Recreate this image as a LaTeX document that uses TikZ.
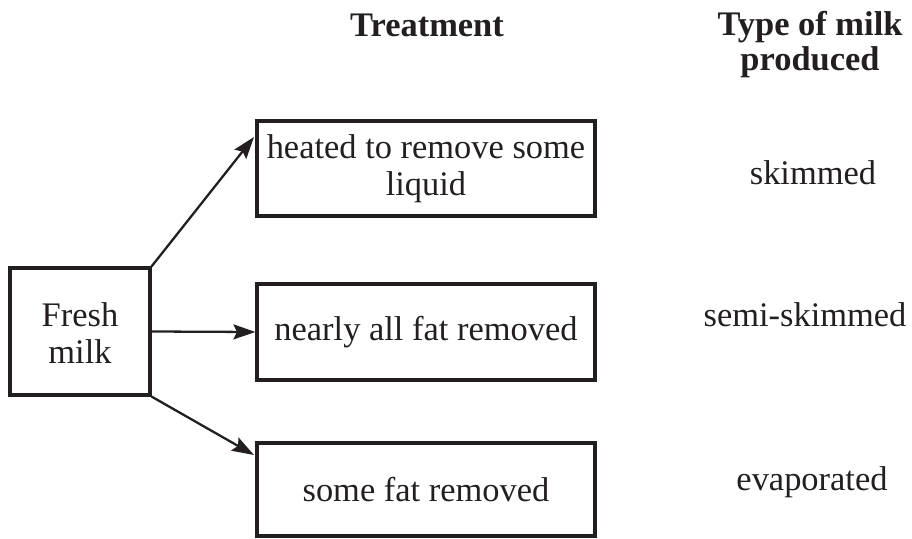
\documentclass[tikz,border=0pt]{standalone}
\usepackage{fontspec}
\setmainfont{Liberation Serif}
\usetikzlibrary{arrows.meta}
\definecolor{ink}{HTML}{231F20}
\tikzset{
    box/.style={draw=ink, line width=1.8pt, inner sep=0pt, align=center, text=ink},
    link/.style={draw=ink, line width=1.3pt, -{Stealth[length=12.5pt,width=8.5pt,inset=2pt]}},
    headtext/.style={text=ink, align=center, inner sep=0pt, font=\fontsize{19.6}{20}\selectfont\bfseries},
    typetext/.style={text=ink, inner sep=0pt}
}
\begin{document}
\begin{tikzpicture}[font=\fontsize{19.6}{21}\selectfont] %milk
            \useasboundingbox (0,0) rectangle (18.24,10.76);

            \node[box, minimum width=2.8cm, minimum height=2.54cm] (fresh) at (1.6,4.13) {\\[-6pt]Fresh\\milk};
            \node[box, minimum width=6.76cm, minimum height=1.9cm] (heated) at (8.52,7.39) {heated to remove some\\liquid};
            \node[box, minimum width=6.76cm, minimum height=1.92cm] (nearly) at (8.52,4.12) {nearly all fat removed};
            \node[box, minimum width=6.76cm, minimum height=1.86cm] (somefat) at (8.52,0.97) {some fat removed};

            \coordinate (tipheated) at (5.08,8.02);
            \coordinate (tipsomefat) at (5.08,1.66);
            \draw[link] (fresh.north east) -- (tipheated);
            \draw[link] (fresh.east) -- (nearly.west);
            \draw[link] (fresh.south east) -- (tipsomefat);

            \node[headtext, anchor=base] (treatment) at (8.54,10.03) {Treatment};
            \node[headtext, anchor=base] (typehead) at (16.2,9.34) {Type of milk\\produced};

            \node[typetext, anchor=base] (skimmed) at (16.26,7.06) {skimmed};
            \node[typetext, anchor=base] (semi) at (16.1,4.22) {semi-skimmed};
            \node[typetext, anchor=base] (evaporated) at (16.24,0.96) {evaporated};
        \end{tikzpicture}
\end{document}
